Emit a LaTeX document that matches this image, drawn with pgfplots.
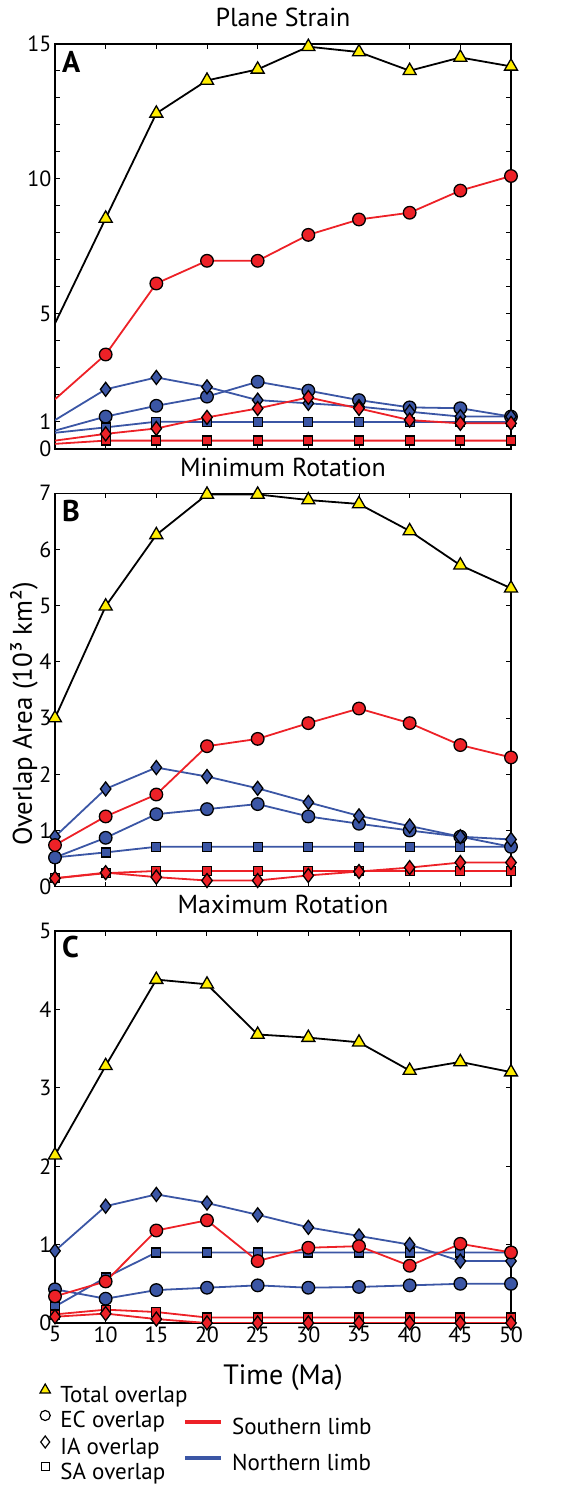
\documentclass[border=0pt]{standalone}
\usepackage{pgfplots}
\usepackage{pgfplotstable}
\usepackage{fontspec}
\setmainfont{PT Sans}
\pgfplotsset{compat=1.18}
\definecolor{myred}{RGB}{237,33,39}
\definecolor{myblue}{RGB}{59,86,165}
\definecolor{myyellow}{RGB}{255,237,0}

\pgfplotstableread{
x  tot   ecs   ias   sas   ecn   ian   san
5  4.65  1.84  0.31  0.19  0.68  1.07  0.60
10 8.54  3.50  0.56  0.31  1.20  2.21  0.80
15 12.43 6.13  0.76  0.31  1.60  2.65  1.01
20 13.65 6.97  1.17  0.31  1.94  2.30  1.00
25 14.06 6.97  1.50  0.31  2.49  1.81  1.00
30 14.90 7.93  1.91  0.31  2.16  1.69  1.00
35 14.70 8.50  1.50  0.31  1.81  1.57  1.00
40 14.01 8.75  1.07  0.31  1.54  1.38  1.00
45 14.50 9.57  0.95  0.31  1.51  1.20  1.00
50 14.17 10.11 0.95  0.31  1.20  1.20  1.00
}\tabA

\pgfplotstableread{
x  tot   ecs   ias   sas   ecn   ian   san
5  3.00  0.74  0.15  0.15  0.52  0.89  0.52
10 4.99  1.25  0.25  0.24  0.87  1.74  0.61
15 6.26  1.64  0.17  0.28  1.29  2.12  0.71
20 6.98  2.50  0.11  0.28  1.38  1.96  0.71
25 6.98  2.63  0.11  0.28  1.47  1.75  0.71
30 6.88  2.91  0.20  0.28  1.25  1.50  0.71
35 6.81  3.17  0.27  0.28  1.12  1.26  0.71
40 6.33  2.91  0.34  0.28  1.00  1.08  0.71
45 5.72  2.52  0.43  0.28  0.89  0.89  0.71
50 5.31  2.30  0.43  0.28  0.71  0.84  0.71
}\tabB

\pgfplotstableread{
x  tot   ecs   ias   sas   ecn   ian   san
5  2.14  0.34  0.08  0.11  0.43  0.92  0.21
10 3.28  0.53  0.12  0.17  0.31  1.49  0.58
15 4.38  1.18  0.05  0.14  0.42  1.64  0.90
20 4.32  1.31  0.00  0.07  0.45  1.53  0.90
25 3.68  0.79  0.00  0.07  0.48  1.38  0.90
30 3.64  0.96  0.00  0.07  0.45  1.22  0.90
35 3.58  0.98  0.00  0.07  0.46  1.11  0.90
40 3.22  0.73  0.00  0.07  0.48  1.00  0.90
45 3.33  1.01  0.00  0.07  0.50  0.79  0.90
50 3.20  0.90  0.00  0.07  0.50  0.79  0.90
}\tabC

\pgfplotsset{
  tot/.style={black, line width=1.8pt, mark=triangle*, mark size=7.5pt,
    mark options={fill=myyellow, draw=black, line width=1.3pt}},
  ecs/.style={myred, line width=1.8pt, mark=*, mark size=6.3pt,
    mark options={fill=myred, draw=black, line width=1.3pt}},
  ias/.style={myred, line width=1.8pt, mark=diamond*, mark size=7pt,
    mark options={fill=myred, draw=black, line width=1.3pt}},
  sas/.style={myred, line width=1.8pt, mark=square*, mark size=4.5pt,
    mark options={fill=myred, draw=black, line width=1.3pt}},
  ecn/.style={myblue, line width=1.8pt, mark=*, mark size=6.3pt,
    mark options={fill=myblue, draw=black, line width=1.3pt}},
  ian/.style={myblue, line width=1.8pt, mark=diamond*, mark size=7pt,
    mark options={fill=myblue, draw=black, line width=1.3pt}},
  san/.style={myblue, line width=1.8pt, mark=square*, mark size=4.5pt,
    mark options={fill=myblue, draw=black, line width=1.3pt}},
  panel/.style={
    scale only axis, width=456pt, anchor=south west,
    xmin=5, xmax=50, ymin=0,
    xtick={5,10,...,50},
    tick align=inside, major tick length=5pt,
    axis line style={line width=1.2pt},
    every tick/.style={black, line width=1pt},
    tick label style={font=\fontsize{22}{24}\selectfont},
    /pgf/number format/assume math mode=true,
    title style={at={(0.5,1)}, anchor=base, yshift=11pt, font=\fontsize{26}{30}\selectfont},
  },
}

\begin{document}
\begin{tikzpicture}[x=1pt,y=1pt]
\useasboundingbox (0,0) rectangle (572,1485);

% Panel A
\begin{axis}[panel, at={(55pt,1036pt)}, height=405pt, ymax=15,
  title={Plane Strain},
  xticklabels={},
  ytick={0,...,15}, yticklabels={0,1,,,,5,,,,,10,,,,,15}]
\addplot[san, mark indices={2,...,10}] table[x=x,y=san]{\tabA};
\addplot[ecn, mark indices={2,...,10}] table[x=x,y=ecn]{\tabA};
\addplot[ian, mark indices={2,...,10}] table[x=x,y=ian]{\tabA};
\addplot[sas, mark indices={2,...,10}] table[x=x,y=sas]{\tabA};
\addplot[ias, mark indices={2,...,10}] table[x=x,y=ias]{\tabA};
\addplot[ecs, mark indices={2,...,10}] table[x=x,y=ecs]{\tabA};
\addplot[tot, mark indices={2,...,10}] table[x=x,y=tot]{\tabA};
\end{axis}

% Panel B
\begin{axis}[panel, at={(55pt,598.3pt)}, height=393.4pt, ymax=7,
  title={Minimum Rotation},
  xticklabels={},
  ytick={0,...,7}]
\addplot[san] table[x=x,y=san]{\tabB};
\addplot[ecn] table[x=x,y=ecn]{\tabB};
\addplot[ian] table[x=x,y=ian]{\tabB};
\addplot[sas] table[x=x,y=sas]{\tabB};
\addplot[ias] table[x=x,y=ias]{\tabB};
\addplot[ecs] table[x=x,y=ecs]{\tabB};
\addplot[tot] table[x=x,y=tot]{\tabB};
\end{axis}

% Panel C
\begin{axis}[panel, at={(55pt,162pt)}, height=392pt, ymax=5,
  title={Maximum Rotation},
  ytick={0,...,5},
  xlabel={Time (Ma)},
  xlabel style={at={(0.5,0)}, anchor=base, yshift=-62pt, font=\fontsize{28}{30}\selectfont}]
\addplot[san] table[x=x,y=san]{\tabC};
\addplot[ecn] table[x=x,y=ecn]{\tabC};
\addplot[ian] table[x=x,y=ian]{\tabC};
\addplot[sas] table[x=x,y=sas]{\tabC};
\addplot[ias] table[x=x,y=ias]{\tabC};
\addplot[ecs] table[x=x,y=ecs]{\tabC};
\addplot[tot] table[x=x,y=tot]{\tabC};
\end{axis}

% Legends
\begin{axis}[at={(0pt,0pt)}, anchor=south west, scale only axis, width=572pt, height=100pt,
  xmin=0, xmax=572, ymin=0, ymax=100, hide axis,
  legend cell align=left,
  legend image code/.code={\path (-8pt,0pt) (8pt,0pt); \draw[#1, yshift=7pt] plot coordinates {(0pt,0pt)};},
  legend style={draw=none, fill=none, inner sep=0pt, outer sep=0pt,
    font=\fontsize{23}{25}\selectfont, column sep=7pt, row sep=3pt,
    nodes={inner sep=0pt, text height=16pt, text depth=5pt},
    at={(rel axis cs:0.0647,1.01)}, anchor=north west}]
\addlegendimage{only marks, mark=triangle*, mark size=6pt, mark options={fill=myyellow, draw=black, line width=1.2pt}}
\addlegendentry{Total overlap}
\addlegendimage{only marks, mark=o, mark size=5pt, mark options={draw=black, line width=1.2pt}}
\addlegendentry{EC overlap}
\addlegendimage{only marks, mark=diamond, mark size=6pt, mark options={draw=black, line width=1.2pt}}
\addlegendentry{IA overlap}
\addlegendimage{only marks, mark=square, mark size=4pt, mark options={draw=black, line width=1.2pt}}
\addlegendentry{SA overlap}
\end{axis}

\begin{axis}[at={(0pt,0pt)}, anchor=south west, scale only axis, width=572pt, height=100pt,
  xmin=0, xmax=572, ymin=0, ymax=100, hide axis,
  legend cell align=left,
  legend image code/.code={\draw[#1, yshift=7pt] (0pt,0pt) -- (36pt,0pt);},
  legend style={draw=none, fill=none, inner sep=0pt, outer sep=0pt,
    font=\fontsize{23}{25}\selectfont, column sep=9pt, row sep=15pt,
    nodes={inner sep=0pt, text height=16pt, text depth=5pt},
    at={(rel axis cs:0.32,0.66)}, anchor=north west}]
\addlegendimage{myred, line width=4pt}
\addlegendentry{Southern limb}
\addlegendimage{myblue, line width=4pt}
\addlegendentry{Northern limb}
\end{axis}

% Panel letters and y label
\node[anchor=base west, inner sep=0pt, font=\fontsize{30}{32}\selectfont\bfseries] at (62,1412) {A};
\node[anchor=base west, inner sep=0pt, font=\fontsize{30}{32}\selectfont\bfseries] at (62,963) {B};
\node[anchor=base west, inner sep=0pt, font=\fontsize{30}{32}\selectfont\bfseries] at (62,527) {C};
\node[rotate=90, inner sep=0pt, font=\fontsize{27}{30}\selectfont] at (24,771) {Overlap Area (10³ km²)};
\end{tikzpicture}
\end{document}
